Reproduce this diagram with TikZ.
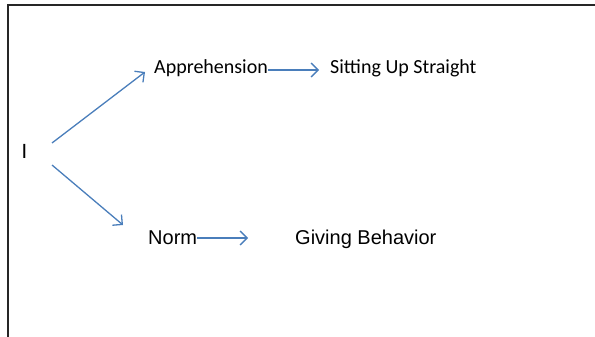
\documentclass[tikz,border=0pt]{standalone}
\usepackage{fontspec}
\setmainfont{Carlito}
\newfontfamily\arialfont{Liberation Sans}
\usetikzlibrary{arrows.meta}
\definecolor{arrowblue}{HTML}{4A7EBB}
\tikzset{
  lbl/.style={font=\fontsize{20}{24}\selectfont, inner sep=0pt, anchor=base west},
  albl/.style={lbl, font=\fontsize{20}{24}\selectfont\arialfont},
  conn/.style={draw=arrowblue, line width=1.3pt, -{Straight Barb[length=7pt,width=14pt,line width=1.3pt]}},
  frame/.style={draw=black!85, line width=1.4pt}
}
\begin{document}
\begin{tikzpicture}[x=1pt,y=-1pt]
\useasboundingbox (0,0) rectangle (595,337);
\coordinate (fbl) at (8,337);
\coordinate (ftl) at (8,5);
\coordinate (ftr) at (595,5);
\draw[frame] (fbl) -- (ftl) -- (ftr);

\node[lbl, font=\fontsize{22}{26}\selectfont] (I) at (21.5,158) {I};
\node[lbl] (appr) at (154,74) {Apprehension};
\node[lbl] (sit) at (330,74) {Sitting Up Straight};
\node[albl] (norm) at (148,244) {Norm};
\node[albl] (give) at (295,244) {Giving Behavior};

\coordinate (i1) at (52,143);
\coordinate (a1) at (145,72);
\coordinate (i2) at (52,165);
\coordinate (n2) at (123,225);
\coordinate (s3) at (319,70);
\coordinate (g4) at (248,238);

\draw[conn] (i1) -- (a1);
\draw[conn] (i2) -- (n2);
\draw[conn] (appr.east |- s3) -- (s3);
\draw[conn] (norm.east |- g4) -- (g4);
\end{tikzpicture}
\end{document}
